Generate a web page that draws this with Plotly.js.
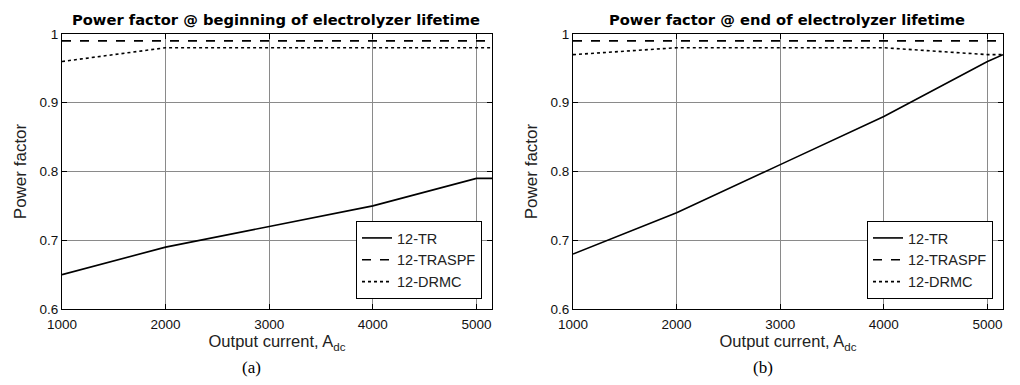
<!DOCTYPE html>
<html>
<head>
<meta charset="utf-8">
<script src="https://cdn.plot.ly/plotly-3.0.1.min.js"></script>
<style>html,body{margin:0;padding:0;background:#fff;}#chart{width:1020px;height:385px;}</style>
</head>
<body>
<div id="chart"></div>
<script>
// Data
const currentA = [1000, 2000, 3000, 4000, 5000, 5150];
const begin_TR     = [0.65, 0.69, 0.72, 0.75, 0.79, 0.79];
const begin_TRASPF = [0.99, 0.99, 0.99, 0.99, 0.99, 0.99];
const begin_DRMC   = [0.96, 0.98, 0.98, 0.98, 0.98, 0.98];
const end_TR       = [0.68, 0.74, 0.81, 0.88, 0.96, 0.97];
const end_TRASPF   = [0.99, 0.99, 0.99, 0.99, 0.99, 0.99];
const end_DRMC     = [0.97, 0.98, 0.98, 0.98, 0.97, 0.97];
const seriesNames = ['12-TR', '12-TRASPF', '12-DRMC'];
const xTicks = [1000, 2000, 3000, 4000, 5000];
const yTicks = [0.6, 0.7, 0.8, 0.9, 1];
const yTickText = ['0.6', '0.7', '0.8', '0.9', '1'];
const titles = ['Power factor @ beginning of electrolyzer lifetime', 'Power factor @ end of electrolyzer lifetime'];
const captions = ['(a)', '(b)'];

const dashes = ['solid', 'dash', 'dot'];
const widths = [1.6, 1.6, 1.6];

function mk(y, i, xa, ya, leg) {
  return {x: currentA, y: y, name: seriesNames[i], type: 'scatter', mode: 'lines',
    xaxis: xa, yaxis: ya, legend: leg,
    line: {color: '#000', width: widths[i], dash: dashes[i]}};
}
const traces = [
  mk(begin_TR, 0, 'x', 'y', 'legend'), mk(begin_TRASPF, 1, 'x', 'y', 'legend'), mk(begin_DRMC, 2, 'x', 'y', 'legend'),
  mk(end_TR, 0, 'x2', 'y2', 'legend2'), mk(end_TRASPF, 1, 'x2', 'y2', 'legend2'), mk(end_DRMC, 2, 'x2', 'y2', 'legend2')
];

const W = 1020, H = 385;
const yDom = [1 - 309/H, 1 - 34/H];
const font = 'Liberation Sans, Arial, sans-serif';
function xa(dom, anchor) {
  return {domain: dom, anchor: anchor, range: [1000, 5150], tickvals: xTicks, ticktext: xTicks.map(String),
    showgrid: true, gridcolor: '#8a8a8a', gridwidth: 1, zeroline: false,
    showline: true, linecolor: '#000', linewidth: 1, mirror: 'ticks',
    ticks: 'inside', ticklen: 5, tickcolor: '#000', ticklabelstandoff: 3,
    tickfont: {family: font, size: 13.5, color: '#111'},
    title: {text: 'Output current, A<sub>dc</sub>', font: {family: font, size: 16.5, color: '#222'}, standoff: 2}};
}
function ya(dom, anchor) {
  return {domain: dom, anchor: anchor, range: [0.6, 1.0], tickvals: yTicks, ticktext: yTickText,
    showgrid: true, gridcolor: '#8a8a8a', gridwidth: 1, zeroline: false,
    showline: true, linecolor: '#000', linewidth: 1, mirror: 'ticks',
    ticks: 'inside', ticklen: 5, tickcolor: '#000',
    tickfont: {family: font, size: 13.5, color: '#111'},
    title: {text: 'Power factor', font: {family: font, size: 17, color: '#222'}, standoff: 8}};
}
function leg(xr, yb) {
  return {x: xr, y: yb, xanchor: 'right', yanchor: 'bottom', bgcolor: '#fff',
    bordercolor: '#000', borderwidth: 1, font: {family: font, size: 14.5, color: '#222'},
    tracegroupgap: 0, itemwidth: 30};
}
function ann(text, x, y, size, fam, weightBold) {
  return {text: weightBold ? '<b>' + text + '</b>' : text, x: x / W, y: 1 - y / H,
    xref: 'paper', yref: 'paper', xanchor: 'center', yanchor: 'middle', showarrow: false,
    font: {family: fam, size: size, color: '#000'}};
}
const titleFont = 'DejaVu Sans, Liberation Sans, sans-serif';

const layout = {
  width: W, height: H, margin: {l: 0, r: 0, t: 0, b: 0},
  paper_bgcolor: '#fff', plot_bgcolor: '#fff', showlegend: true,
  xaxis: xa([62/W, 492/W], 'y'), yaxis: ya(yDom, 'x'),
  xaxis2: xa([573/W, 1003/W], 'y2'), yaxis2: ya(yDom, 'x2'),
  legend: leg(482/W, 1 - 299/H), legend2: leg(993/W, 1 - 299/H),
  annotations: [
    ann(titles[0], 276, 19, 14.7, titleFont, true),
    ann(titles[1], 787, 19, 14.7, titleFont, true),
    ann(captions[0], 251, 367, 17, 'Liberation Serif, serif', false),
    ann(captions[1], 763, 367, 17, 'Liberation Serif, serif', false)
  ]
};
Plotly.newPlot('chart', traces, layout, {displayModeBar: false, staticPlot: true});
</script>
</body>
</html>
